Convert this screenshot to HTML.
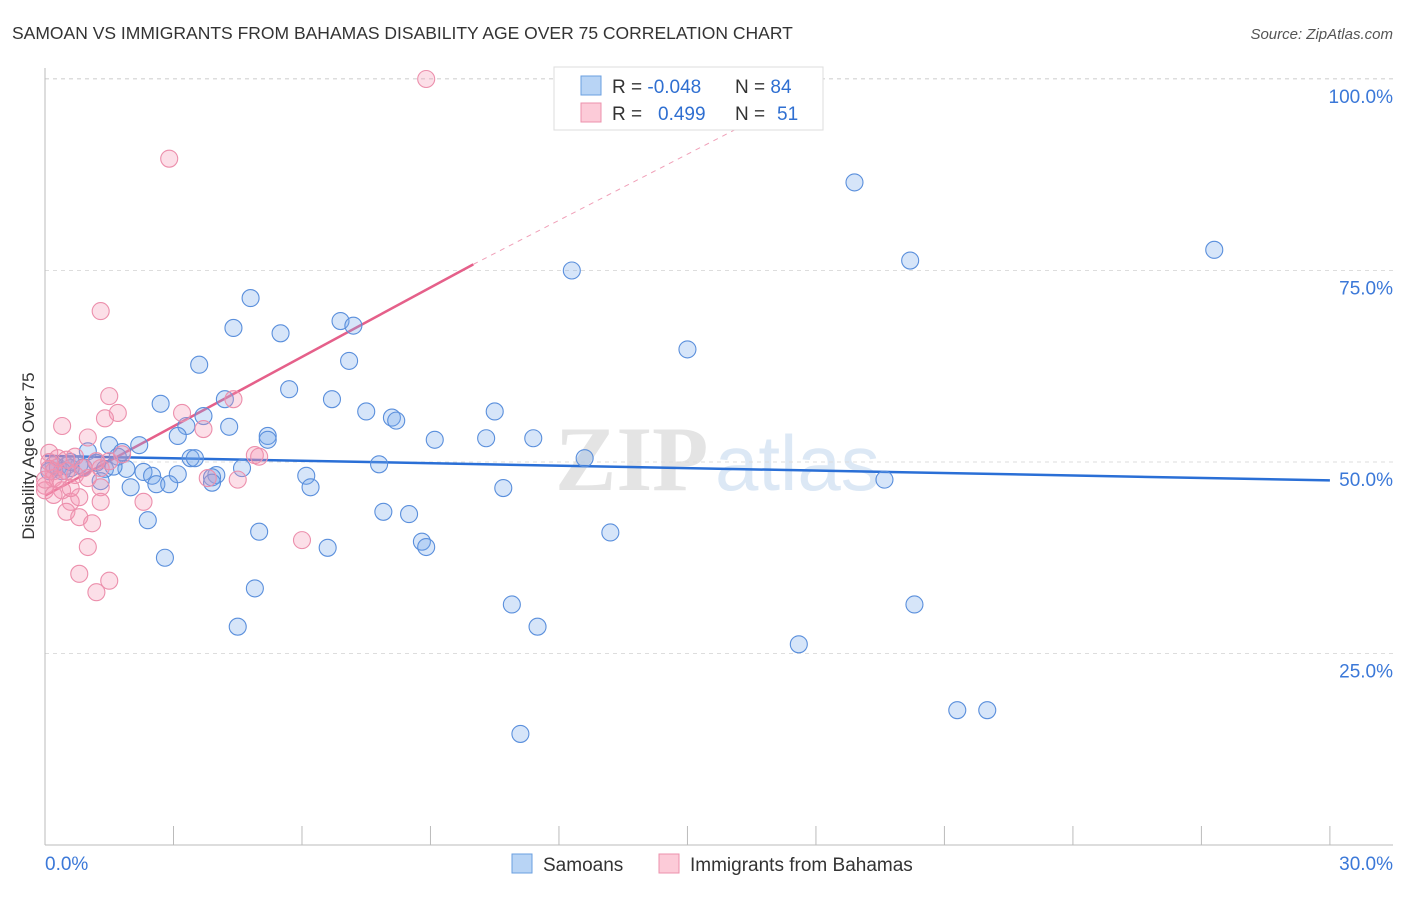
<!DOCTYPE html>
<html><head><meta charset="utf-8"><style>
body{margin:0;background:#fff;font-family:"Liberation Sans",sans-serif}
#wrap{position:relative;width:1406px;height:892px}
</style></head><body>
<div id="wrap">
<svg id="svg" width="1406" height="892" xmlns="http://www.w3.org/2000/svg">
<text x="12" y="39" font-size="17.5" fill="#333">SAMOAN VS IMMIGRANTS FROM BAHAMAS DISABILITY AGE OVER 75 CORRELATION CHART</text>
<text x="1393" y="39" font-size="15" fill="#555" font-style="italic" text-anchor="end">Source: ZipAtlas.com</text>
<text x="34" y="456" font-size="17" fill="#333" text-anchor="middle" transform="rotate(-90 34 456)">Disability Age Over 75</text>
<g><text x="555" y="490" font-size="92" fill="#e4e4e4" font-family="Liberation Serif,serif" font-weight="bold">ZIP</text><text x="715" y="490" font-size="78" fill="#dce8f5">atlas</text></g>
<g id="grid"></g><g id="axes"></g><g id="lines"></g><g id="pts"></g>
<g>
<rect x="554" y="67" width="269" height="63" fill="#fff" stroke="#ddd"/>
<rect x="581" y="76" width="20" height="19" fill="#b8d4f5" stroke="#6a9fe0"/>
<rect x="581" y="103" width="20" height="19" fill="#fccbd8" stroke="#ec91ac"/>
<text x="612" y="93" font-size="19" fill="#333">R = <tspan fill="#2f6fd1">-0.048</tspan></text>
<text x="735" y="93" font-size="19" fill="#333">N = <tspan fill="#2f6fd1">84</tspan></text>
<text x="612" y="120" font-size="19" fill="#333">R = <tspan fill="#2f6fd1" x="658">0.499</tspan></text>
<text x="735" y="120" font-size="19" fill="#333">N = <tspan fill="#2f6fd1" x="777">51</tspan></text>
</g>
<g>
<rect x="512" y="854" width="20" height="19" fill="#b8d4f5" stroke="#6a9fe0"/>
<text x="543" y="871" font-size="19" fill="#333">Samoans</text>
<rect x="659" y="854" width="20" height="19" fill="#fccbd8" stroke="#ec91ac"/>
<text x="690" y="871" font-size="19" fill="#333">Immigrants from Bahamas</text>
</g>
</svg>
</div>
<script>
const xTicks=[0,3,6,9,12,15,18,21,24,27,30];
const yTicks=[25,50,75,100];
const yTickLabels=["25.0%","50.0%","75.0%","100.0%"];
const blueX=[18.9,27.3,20.2,12.3,4.8,4.4,5.5,6.9,7.2,15.0,3.6,7.1,5.7,6.7,2.7,4.2,7.5,3.7,10.5,8.1,8.2,3.3,3.1,4.3,5.2,5.2,9.1,10.3,11.4,2.2,1.5,1.0,1.8,1.7,3.4,3.5,12.6,1.2,0.8,0.3,0.5,0.6,0.9,1.4,1.9,2.3,2.5,3.1,4.0,4.6,7.8,19.6,3.9,6.1,3.9,10.7,1.3,2.0,2.6,2.9,6.2,7.9,8.5,2.4,5.0,13.2,8.8,8.9,6.6,2.8,4.9,10.9,20.3,4.5,11.5,17.6,21.3,22.0,11.1,0.2,0.4,0.6,0.1,1.6];
const blueY=[86.5,77.7,76.3,75.0,71.4,67.5,66.8,68.4,67.8,64.7,62.7,63.2,59.5,58.2,57.6,58.2,56.6,56.0,56.6,55.8,55.4,54.7,53.4,54.6,53.4,52.9,52.9,53.1,53.1,52.2,52.2,51.4,51.3,50.7,50.5,50.5,50.5,49.9,49.6,49.3,49.5,49.2,49.3,49.1,49.1,48.7,48.2,48.4,48.3,49.2,49.7,47.7,48.0,48.2,47.3,46.6,47.5,46.7,47.1,47.1,46.7,43.5,43.2,42.4,40.9,40.8,39.6,38.9,38.8,37.5,33.5,31.4,31.4,28.5,28.5,26.2,17.6,17.6,14.5,49.6,48.8,50.0,48.8,49.4];
const pinkX=[8.9,2.9,1.3,1.5,1.7,1.4,4.4,3.2,0.4,3.7,1.0,0.1,0.3,0.5,0.7,0.9,0.7,0.2,0.0,0.4,1.3,4.9,5.0,0.1,0.1,0.2,1.2,1.5,1.8,1.3,4.5,0.6,0.8,1.3,0.5,0.8,1.1,2.3,6.0,1.0,0.8,1.5,1.2,3.8,0.3,0.0,0.2,0.0,0.5,1.0,0.6];
const pinkY=[100,89.6,69.7,58.6,56.4,55.7,58.2,56.4,54.7,54.3,53.2,51.2,50.5,50.3,50.7,49.2,48.3,47.9,46.9,46.3,49.2,50.9,50.7,50.0,49.1,48.8,50.1,50.1,51.0,46.7,47.7,44.8,45.4,44.8,43.5,42.8,42.0,44.8,39.8,38.9,35.4,34.5,33.0,47.9,47.7,46.3,45.7,47.7,48.8,47.9,46.6];
const blueLine=[[0,50.8],[30,47.6]];
const pinkLine=[[0,45.6],[10,75.8]];
const pinkDash=[[10,75.8],[16.5,94.5]];
const X=v=>45+v*42.83, Y=v=>845-v*7.66;
const NS="http://www.w3.org/2000/svg";
function mk(t,a,p){const e=document.createElementNS(NS,t);for(const k in a)e.setAttribute(k,a[k]);document.getElementById(p).appendChild(e);return e;}
yTicks.forEach((t,i)=>{
const g=mk('line',{x1:45,x2:1393,y1:Y(t),y2:Y(t),stroke:'#ddd','stroke-dasharray':'4,4'},'grid');


const tx=mk('text',{x:1393,y:Y(t)+24,'font-size':19,fill:'#3b78d8','text-anchor':'end'},'axes');
tx.textContent=yTickLabels[i];


});
const tg=mk('line',{x1:45,x2:1393,y1:Y(100)-0.5,y2:Y(100)-0.5,stroke:'#ddd','stroke-dasharray':'4,4'},'grid');


const ya=mk('line',{x1:45,x2:45,y1:68,y2:845,stroke:'#bbb'},'axes');


const xa=mk('line',{x1:45,x2:1393,y1:845,y2:845,stroke:'#bbb'},'axes');


xTicks.forEach(t=>{
const l=mk('line',{x1:X(t),x2:X(t),y1:826,y2:845,stroke:'#bbb'},'axes');


});
const x0=mk('text',{x:45,y:870,'font-size':19,fill:'#3b78d8'},'axes');x0.textContent=xTicks[0].toFixed(1)+'%';


const x1=mk('text',{x:1393,y:870,'font-size':19,fill:'#3b78d8','text-anchor':'end'},'axes');x1.textContent=xTicks[xTicks.length-1].toFixed(1)+'%';


const pd=mk('line',{x1:X(pinkDash[0][0]),y1:Y(pinkDash[0][1]),x2:X(pinkDash[1][0]),y2:Y(pinkDash[1][1]),stroke:'#f0a0b8','stroke-dasharray':'5,5','stroke-width':1},'lines');


blueX.forEach((v,i)=>{
const c=mk('circle',{cx:X(v),cy:Y(blueY[i]),r:8.5,fill:'rgba(120,170,235,0.3)',stroke:'#5a8fdc','stroke-width':1.1},'pts');


});
pinkX.forEach((v,i)=>{
const c=mk('circle',{cx:X(v),cy:Y(pinkY[i]),r:8.5,fill:'rgba(245,150,180,0.3)',stroke:'#ec8fac','stroke-width':1.1},'pts');


});
const bl=mk('line',{x1:X(blueLine[0][0]),y1:Y(blueLine[0][1]),x2:X(blueLine[1][0]),y2:Y(blueLine[1][1]),stroke:'#2a6fd6','stroke-width':2.5},'lines');


const pl=mk('line',{x1:X(pinkLine[0][0]),y1:Y(pinkLine[0][1]),x2:X(pinkLine[1][0]),y2:Y(pinkLine[1][1]),stroke:'#e5608a','stroke-width':2.5},'lines');


</script>
</body></html>
